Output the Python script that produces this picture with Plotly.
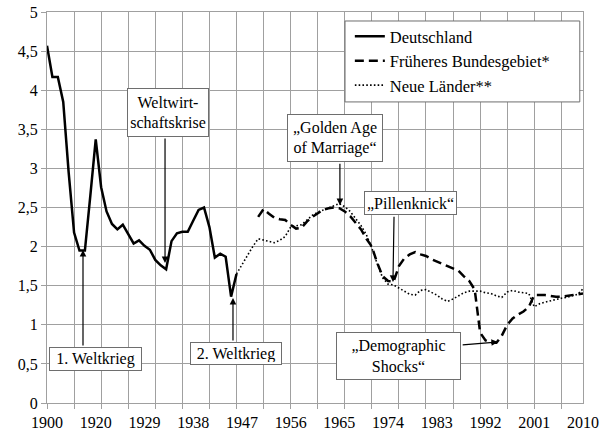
import plotly.graph_objects as go

# ---------------- data ----------------
# category axis (Excel-like): irregular early years, yearly from 1920
early_years = [1900, 1905, 1910, 1913, 1915, 1916, 1917, 1918, 1919]
later_years = list(range(1920, 2011))
categories = early_years + later_years

tick_labels = [1900, 1920, 1929, 1938, 1947, 1956, 1965, 1974, 1983, 1992, 2001, 2010]

de_years = categories[:categories.index(1946) + 1]
de_values = [4.57, 4.17, 4.17, 3.85, 2.95, 2.18, 1.95, 1.95, 2.65, 3.37,
             2.76, 2.45, 2.29, 2.22, 2.28, 2.16, 2.04, 2.08, 2.01, 1.96,
             1.83, 1.76, 1.71, 2.07, 2.17, 2.19, 2.19, 2.33, 2.47, 2.50,
             2.25, 1.86, 1.91, 1.87, 1.36, 1.65]

fb_years = list(range(1950, 2011))
fb_values = [2.38, 2.48, 2.42, 2.37, 2.35, 2.34, 2.28, 2.23, 2.24, 2.32,
             2.38, 2.43, 2.47, 2.49, 2.50, 2.49, 2.45, 2.39, 2.31, 2.22,
             2.10, 2.00, 1.79, 1.62, 1.56, 1.55, 1.75, 1.85, 1.90, 1.93,
             1.90, 1.88, 1.84, 1.81, 1.78, 1.74, 1.72, 1.69, 1.62, 1.56,
             1.45, 0.90, 0.80, 0.77, 0.77, 0.86, 1.00, 1.08, 1.13, 1.17,
             1.23, 1.38, 1.38, 1.38, 1.37, 1.36, 1.36, 1.37, 1.38, 1.39,
             1.40]

nl_years = list(range(1946, 2011))
nl_values = [1.65, 1.77, 1.88, 2.00, 2.10, 2.08, 2.06, 2.05, 2.08, 2.13,
             2.25, 2.27, 2.28, 2.34, 2.40, 2.44, 2.47, 2.50, 2.53, 2.55,
             2.51, 2.45, 2.36, 2.27, 2.15, 1.98, 1.78, 1.60, 1.52, 1.51,
             1.47, 1.43, 1.39, 1.38, 1.44, 1.45, 1.42, 1.38, 1.33, 1.30,
             1.33, 1.37, 1.41, 1.43, 1.43, 1.43, 1.41, 1.40, 1.37, 1.35,
             1.42, 1.44, 1.42, 1.41, 1.40, 1.23, 1.27, 1.29, 1.31, 1.32,
             1.34, 1.35, 1.37, 1.39, 1.46]

callout_texts = ["1. Weltkrieg", "Weltwirt-<br>schaftskrise", "2. Weltkrieg",
                 "\u201eGolden Age<br>of Marriage\u201c", "\u201ePillenknick\u201c",
                 "\u201eDemographic<br>Shocks\u201c"]

FONT = "Liberation Serif, Times New Roman, serif"
pos = {y: i for i, y in enumerate(categories)}


def xi(years):
    return [pos[y] for y in years]


fig = go.Figure()
fig.add_trace(go.Scatter(x=xi(de_years), y=de_values, mode="lines", name="Deutschland",
                         line=dict(color="black", width=2.5)))
fig.add_trace(go.Scatter(x=xi(fb_years), y=fb_values, mode="lines", name="Früheres Bundesgebiet*",
                         line=dict(color="black", width=2.5, dash="9px,5px")))
fig.add_trace(go.Scatter(x=xi(nl_years), y=nl_values, mode="lines", name="Neue Länder**",
                         line=dict(color="black", width=1.6, dash="1.6px,2.2px")))
# carrier trace for the label axis
fig.add_trace(go.Scatter(x=[0, len(categories) - 1], y=[None, None], xaxis="x2",
                         showlegend=False, hoverinfo="skip", mode="lines"))

box_x = [8.96, 22.35, 34.9, 53.2, 67.1, 64.9]
box_y = [0.563, 3.715, 0.633, 3.389, 2.558, 0.601]
box_w = [93, 82, 92, 96, 93, 125]
box_h = [24, 49, 23, 48, 24, 48]
arrow_start = [(6.65, 0.716), (21.8, 3.40), (34.35, 0.78), (54.1, 3.08), (64.1, 2.40), (76.5, 0.742)]
arrow_tip = [(6.65, 1.957), (21.8, 1.79), (34.35, 1.343), (54.1, 2.53), (63.9, 1.547), (83.3, 0.78)]

for (sx, sy), (tx, ty) in zip(arrow_start, arrow_tip):
    fig.add_annotation(x=tx, y=ty, ax=sx, ay=sy, xref="x", yref="y", axref="x", ayref="y",
                       text="", showarrow=True, arrowhead=2, arrowsize=1.1, arrowwidth=1.2,
                       arrowcolor="black")

for t, bx, by, bw, bh in zip(callout_texts, box_x, box_y, box_w, box_h):
    fig.add_annotation(x=bx, y=by, xref="x", yref="y", text=t, showarrow=False,
                       xanchor="center", yanchor="middle", width=bw - 6, height=bh - 6,
                       borderpad=2, bordercolor="#6e6e6e", borderwidth=1, bgcolor="white",
                       font=dict(family=FONT, size=16, color="black"), align="center")

# legend frame
fig.add_shape(type="rect", xref="paper", yref="paper", x0=0.556, x1=0.994, y0=0.770, y1=0.977,
              line=dict(color="#6e6e6e", width=1), fillcolor="white", layer="above")

grid = "#a0a0a0"
fig.update_layout(
    width=600, height=431,
    margin=dict(l=47, r=17, t=12, b=28, autoexpand=False),
    paper_bgcolor="white", plot_bgcolor="white",
    separators=",.",
    font=dict(family=FONT, size=16, color="black"),
    showlegend=True,
    legend=dict(x=0.565, y=0.982, xanchor="left", yanchor="top", bgcolor="rgba(0,0,0,0)",
                borderwidth=0, font=dict(family=FONT, size=16.5, color="black"),
                itemwidth=30, tracegroupgap=0),
    xaxis=dict(range=[0, len(categories) - 1], tickmode="linear", tick0=0, dtick=5,
               showticklabels=False, ticks="outside", ticklen=5, tickcolor=grid,
               showgrid=True, gridcolor=grid, gridwidth=1, zeroline=False, automargin=False,
               showline=True, linecolor=grid, linewidth=1, mirror=True),
    xaxis2=dict(overlaying="x", anchor="y", side="bottom", range=[0, len(categories) - 1],
                tickmode="array", tickvals=xi(tick_labels), ticktext=[str(t) for t in tick_labels],
                ticks="outside", ticklen=5, tickcolor="rgba(0,0,0,0)", automargin=False,
                ticklabeloverflow="allow",
                showgrid=False, zeroline=False, showline=False,
                tickfont=dict(family=FONT, size=16, color="black")),
    yaxis=dict(range=[0, 5], dtick=0.5, ticks="outside", ticklen=5, tickcolor=grid,
               showgrid=True, gridcolor=grid, gridwidth=1, zeroline=False, automargin=False,
               showline=True, linecolor=grid, linewidth=1, mirror=True,
               ticklabeloverflow="allow",
               tickfont=dict(family=FONT, size=16, color="black")),
)

# remove the default 8px page margin so the 600x431 figure fills the window exactly
fig.write_html("out.html", config={"displayModeBar": False},
               post_script="document.body.style.margin='0';")
